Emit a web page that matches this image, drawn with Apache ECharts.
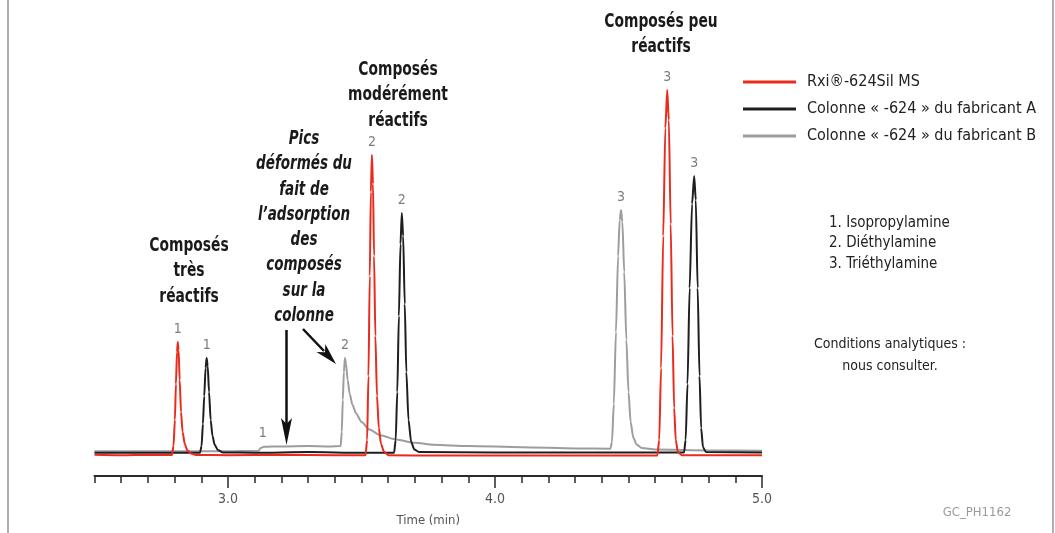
<!DOCTYPE html>
<html><head><meta charset="utf-8">
<script src="https://cdn.jsdelivr.net/npm/echarts@6/dist/echarts.min.js"></script>
<style>html,body{margin:0;padding:0;background:#fff}#c{width:1055px;height:533px}</style>
</head><body><div id="c"></div>
<script>
const FONT = '"Liberation Sans Narrow","DejaVu Sans Condensed","Roboto Condensed",sans-serif';

const seriesNames = ['Rxi®-624Sil MS', 'Colonne « -624 » du fabricant A', 'Colonne « -624 » du fabricant B'];
const seriesColors = ['#ec2a1c', '#1e1e1e', '#9d9d9d'];

const redTrace = [[2.50,0.3],[2.60,0.2],[2.70,0.3],[2.790,0.25],[2.796,2.5],[2.801,9],[2.805,18],[2.809,26],[2.812,28.5],[2.815,26.5],[2.819,19],[2.824,11],[2.830,6],[2.838,3],[2.848,1.4],[2.862,0.6],[2.88,0.25],[3.0,0.2],[3.2,0.3],[3.4,0.2],[3.515,0.2],[3.521,4],[3.526,20],[3.531,45],[3.535,66],[3.539,75.25],[3.543,68],[3.547,50],[3.552,30],[3.558,15],[3.565,7],[3.573,3],[3.584,1.1],[3.60,0.2],[3.8,0.1],[4.0,0.1],[4.3,0.1],[4.608,0.15],[4.615,4],[4.622,22],[4.630,55],[4.638,82],[4.645,91.5],[4.651,84],[4.658,58],[4.665,30],[4.671,12],[4.677,4],[4.685,1],[4.70,0.2],[4.85,0.2],[5.0,0.2]];

const blackTrace = [[2.50,0.8],[2.70,0.8],[2.895,0.8],[2.901,2.5],[2.906,8],[2.911,15],[2.916,22],[2.920,24.5],[2.924,22.5],[2.929,16],[2.935,9],[2.942,5],[2.950,2.8],[2.962,1.5],[2.98,0.9],[3.1,0.8],[3.3,1.0],[3.5,0.8],[3.622,0.8],[3.628,4],[3.634,16],[3.640,35],[3.646,53],[3.651,60.75],[3.656,55],[3.662,38],[3.668,21],[3.676,9],[3.686,3.5],[3.698,1.6],[3.715,1.0],[4.0,0.9],[4.4,0.9],[4.708,0.9],[4.714,4],[4.721,18],[4.729,42],[4.738,63],[4.746,70],[4.752,64],[4.759,42],[4.766,20],[4.772,7],[4.779,2.2],[4.79,1.0],[5.0,0.9]];

const greyTrace = [[2.50,1.2],[2.8,1.2],[3.0,1.2],[3.115,1.3],[3.122,2.0],[3.135,2.3],[3.2,2.4],[3.3,2.5],[3.38,2.4],[3.422,2.5],[3.426,6],[3.430,14],[3.434,21],[3.438,24.5],[3.442,23],[3.448,19],[3.456,15.5],[3.466,12.8],[3.480,10.6],[3.50,8.5],[3.53,6.6],[3.57,5.2],[3.63,4.1],[3.70,3.3],[3.77,2.8],[3.9,2.5],[4.1,2.2],[4.3,1.9],[4.432,1.8],[4.438,3.5],[4.445,13],[4.453,31],[4.461,50],[4.467,59],[4.472,61.5],[4.477,58.5],[4.484,46],[4.492,29],[4.500,16],[4.508,8.5],[4.518,4.6],[4.53,2.9],[4.55,2.0],[4.60,1.6],[4.8,1.4],[5.0,1.3]];

const redPeaks = [[2.812,28.5,'1'],[3.539,75.25,'2'],[4.645,91.5,'3']];
const blackPeaks = [[2.920,24.5,'1'],[3.651,60.75,'2'],[4.746,70,'3']];
const greyPeaks = [[3.13,2.3,'1'],[3.438,24.5,'2'],[4.472,61.5,'3']];

const majorTicks = [3, 4, 5];
const tickLabels = ['3.0', '4.0', '5.0'];
const xTitle = 'Time (min)';

const annoVeryReactive = ['Composés', 'très', 'réactifs'];
const annoDeformed = ['Pics', 'déformés du', 'fait de', 'l’adsorption', 'des', 'composés', 'sur la', 'colonne'];
const annoModerate = ['Composés', 'modérément', 'réactifs'];
const annoLow = ['Composés peu', 'réactifs'];
const compoundList = ['1. Isopropylamine', '2. Diéthylamine', '3. Triéthylamine'];
const conditions = ['Conditions analytiques :', 'nous consulter.'];
const figureCode = 'GC_PH1162';

function peakMarks(peaks) {
  return {
    symbol: 'circle', symbolSize: 0.1, silent: true,
    itemStyle: { color: 'transparent' },
    label: { show: true, position: 'top', distance: 6, color: '#7d7d7d', fontSize: 14, fontFamily: FONT,
      formatter: p => p.value },
    data: peaks.map(p => ({ coord: [p[0], p[1]], value: p[2] }))
  };
}

function mkSeries(i, data, peaks) {
  return {
    name: seriesNames[i], type: 'line', data: data, showSymbol: false, symbol: 'none',
    smooth: 0.25, smoothMonotone: 'x', animation: false,
    lineStyle: { color: seriesColors[i], width: 2 }, itemStyle: { color: seriesColors[i] },
    markPoint: peakMarks(peaks)
  };
}

function textLines(lines, cx, y0, lh, opts, sx) {
  return lines.map((t, k) => ({
    type: 'text', x: cx, y: y0 + k * lh, scaleX: sx || 1, silent: true,
    style: Object.assign({ text: t, align: 'center', verticalAlign: 'middle', fontFamily: FONT, fill: '#1a1a1a' }, opts)
  }));
}

const graphics = [].concat(
  [{ type: 'line', shape: { x1: 8, y1: 0, x2: 8, y2: 533 }, style: { stroke: '#b0b0b0', lineWidth: 2 } },
   { type: 'line', shape: { x1: 1053, y1: 0, x2: 1053, y2: 533 }, style: { stroke: '#b0b0b0', lineWidth: 2 } }],
  textLines(annoVeryReactive, 189, 246, 25.3, { fontSize: 19, fontWeight: 'bold' }, 0.81),
  textLines(annoDeformed, 304, 139, 25.3, { fontSize: 19, fontWeight: 'bold', fontStyle: 'italic' }, 0.79),
  textLines(annoModerate, 398, 70, 25.3, { fontSize: 19, fontWeight: 'bold' }, 0.81),
  textLines(annoLow, 661, 22, 25.3, { fontSize: 19, fontWeight: 'bold' }, 0.81),
  compoundList.map((t, k) => ({ type: 'text', x: 829, y: 223 + k * 20.5, silent: true,
    style: { text: t, align: 'left', verticalAlign: 'middle', fontFamily: FONT, fontSize: 15, fill: '#222' } })),
  textLines(conditions, 890, 344, 22.5, { fontSize: 14, fill: '#222' }),
  [{ type: 'text', x: 977, y: 513, silent: true,
     style: { text: figureCode, align: 'center', verticalAlign: 'middle', fontFamily: FONT, fontSize: 13, fill: '#9a9a9a' } },
   { type: 'line', shape: { x1: 286.5, y1: 330, x2: 286.5, y2: 425 }, style: { stroke: '#111', lineWidth: 2.5 } },
   { type: 'polygon', shape: { points: [[281, 418], [286.5, 424], [292, 418], [286.5, 445]] }, style: { fill: '#111' } },
   { type: 'line', shape: { x1: 303, y1: 329, x2: 324, y2: 351 }, style: { stroke: '#111', lineWidth: 2.5 } },
   { type: 'polygon', shape: { points: [[336, 364], [316.5, 352.1], [325, 352.3], [325.3, 343.9]] }, style: { fill: '#111' } }]
);

const chart = echarts.init(document.getElementById('c'), null, { renderer: 'canvas' });
chart.setOption({
  animation: false,
  backgroundColor: '#fff',
  textStyle: { fontFamily: FONT },
  grid: { left: 94.5, right: 293, top: 56, bottom: 77, containLabel: false },
  legend: {
    data: seriesNames, orient: 'vertical', left: 743, top: 74, itemGap: 11,
    icon: 'rect', itemWidth: 53, itemHeight: 3, padding: 0, selectedMode: false,
    textStyle: { fontSize: 16, color: '#222', fontFamily: FONT, padding: [0, 0, 0, 6] }
  },
  xAxis: [
    { type: 'value', min: 2.5, max: 5.0, interval: 0.1, offset: 20, position: 'bottom',
      axisLine: { show: true, onZero: false, lineStyle: { color: '#2a2a2a', width: 2 } },
      axisTick: { show: true, length: 7, lineStyle: { color: '#2a2a2a', width: 1.5 } },
      axisLabel: { show: false }, splitLine: { show: false } },
    { type: 'value', min: 2.5, max: 5.0, offset: 20, position: 'bottom',
      axisLine: { show: false, onZero: false },
      axisTick: { show: true, length: 12, customValues: majorTicks, lineStyle: { color: '#2a2a2a', width: 1.5 } },
      axisLabel: { show: true, customValues: majorTicks, margin: 16, fontSize: 14, color: '#555', fontFamily: FONT,
        formatter: v => tickLabels[majorTicks.indexOf(Math.round(v * 10) / 10)] || '' },
      splitLine: { show: false },
      name: xTitle, nameLocation: 'middle', nameGap: 38,
      nameTextStyle: { fontSize: 13, color: '#555', fontFamily: FONT } }
  ],
  yAxis: { type: 'value', min: 0, max: 100, show: false },
  series: [
    mkSeries(2, greyTrace, greyPeaks),
    mkSeries(1, blackTrace, blackPeaks),
    mkSeries(0, redTrace, redPeaks)
  ],
  graphic: graphics
});
</script>
</body></html>
